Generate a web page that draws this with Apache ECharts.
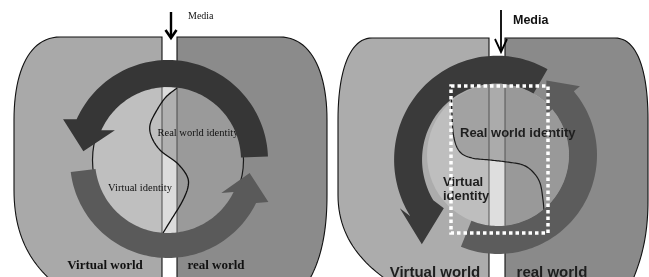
<!DOCTYPE html>
<html><head><meta charset="utf-8">
<script src="https://cdn.jsdelivr.net/npm/echarts@6/dist/echarts.min.js"></script>
<style>html,body{margin:0;padding:0;background:#fff}#c{width:649px;height:277px}</style>
</head><body><div id="c"></div>
<script>
// ---- text content ----
const mediaLabels = ['Media', 'Media'];
const realIdentityLabels = ['Real world identity', 'Real world identity'];
const virtualIdentityLabels = ['Virtual identity', 'Virtual', 'identity'];
const worldLabels = ['Virtual world', 'real world'];

// ---- layout (diagram geometry) ----
const L = {
  c: [168, 160], r: 75.5, strip: [162, 177],
  s: [[177,88],[166,97],[157,110],[150,125],[152,138],[161,151],[177,163],[187,176],[188,187],[182,202],[171,220],[163,233]],
  arrows: [
    {a0: 187, a1: 334, rIn: 73, rOut: 98, hb: 24, len: 25, tilt: -15, drift: 0, color: '#5a5a5a'},
    {a0: 2, a1: 156, rIn: 73, rOut: 100, hb: 26.5, len: 27, tilt: -12, drift: 0, color: '#363636'}
  ]
};
const R = {
  c: [498, 155], r: 71, strip: [489, 505],
  s: [[451,86],[452,115],[454,138],[460,152],[472,158],[490,160],[507,162],[523,165],[533,172],[540,183],[543,200],[545,220],[548,233]],
  arrows: [
    {a0: 248, a1: 400, rIn: 71, rOut: 99, hb: 22, len: 26, tilt: 0, drift: 0, color: '#5c5c5c'},
    {a0: 60, a1: 215, rIn: 71, rOut: 99, hb: 22, len: 36, tilt: 35, drift: 8, color: '#3a3a3a'}
  ]
};
// outer half-shapes: [start, [ctrl1, ctrl2, end] or [point]...]
const shapes = [
  {fill: '#a9a9a9', segs: [[162,37],[60,37],[[30,37],[14,70],[14,120]],[14,190],[[14,235],[30,262],[53,282]],[162,282]]},
  {fill: '#8b8b8b', segs: [[177,37],[280,37],[[310,37],[327,70],[327,120]],[327,195],[[327,235],[320,262],[308,282]],[177,282]]},
  {fill: '#acacac', segs: [[489,38],[372,38],[[350,38],[338,70],[338,120]],[338,195],[[338,235],[360,262],[390,282]],[489,282]]},
  {fill: '#8a8a8a', segs: [[505,38],[615,38],[[637,38],[648,70],[648,120]],[648,200],[[648,240],[640,262],[632,282]],[505,282]]}
];

const rad = d => d * Math.PI / 180;
function P(cx, cy, r, a) { return [cx + r * Math.cos(rad(a)), cy - r * Math.sin(rad(a))]; }
function rot(v, deg) { const c = Math.cos(rad(deg)), s = Math.sin(rad(deg)); return [v[0]*c - v[1]*s, v[0]*s + v[1]*c]; }

function segsToPoints(segs) {
  const out = [segs[0].slice()];
  for (let i = 1; i < segs.length; i++) {
    const sg = segs[i];
    if (Array.isArray(sg[0])) {
      const p0 = out[out.length-1], [p1, p2, p3] = sg;
      for (let k = 1; k <= 24; k++) {
        const t = k / 24, u = 1 - t;
        out.push([u*u*u*p0[0] + 3*u*u*t*p1[0] + 3*u*t*t*p2[0] + t*t*t*p3[0],
                  u*u*u*p0[1] + 3*u*u*t*p1[1] + 3*u*t*t*p2[1] + t*t*t*p3[1]]);
      }
    } else out.push(sg.slice());
  }
  return out;
}

function arcArrow(cx, cy, o) {
  const pts = [], n = 90;
  const dr = t => o.drift * t * t;
  for (let i = 0; i <= n; i++) { const t = i / n; pts.push(P(cx, cy, o.rOut + dr(t), o.a0 + (o.a1 - o.a0) * t)); }
  const rm = (o.rIn + o.rOut) / 2 + o.drift;
  const M = P(cx, cy, rm, o.a1);
  const ta = rad(o.a1);
  const d = rot([-Math.sin(ta), -Math.cos(ta)], o.tilt);
  const nr = rot([Math.cos(ta), -Math.sin(ta)], o.tilt);
  pts.push([M[0] + nr[0]*o.hb, M[1] + nr[1]*o.hb]);
  pts.push([M[0] + d[0]*o.len, M[1] + d[1]*o.len]);
  pts.push([M[0] - nr[0]*o.hb, M[1] - nr[1]*o.hb]);
  for (let i = n; i >= 0; i--) { const t = i / n; pts.push(P(cx, cy, o.rIn + dr(t), o.a0 + (o.a1 - o.a0) * t)); }
  return pts;
}

function catmull(pts, seg) {
  const out = [];
  for (let i = 0; i < pts.length - 1; i++) {
    const p0 = pts[Math.max(i-1,0)], p1 = pts[i], p2 = pts[i+1], p3 = pts[Math.min(i+2, pts.length-1)];
    for (let k = 0; k < seg; k++) {
      const t = k / seg, t2 = t*t, t3 = t2*t;
      const f = (a,b,c,e) => 0.5*((2*b) + (-a+c)*t + (2*a-5*b+4*c-e)*t2 + (-a+3*b-3*c+e)*t3);
      out.push([f(p0[0],p1[0],p2[0],p3[0]), f(p0[1],p1[1],p2[1],p3[1])]);
    }
  }
  out.push(pts[pts.length-1]);
  return out;
}
function interp(pts, v, axis) {
  const o = 1 - axis;
  if (v < pts[0][axis]) return -Infinity;
  if (v > pts[pts.length-1][axis]) return Infinity;
  for (let i = 0; i < pts.length - 1; i++) {
    const a = pts[i][axis], b = pts[i+1][axis];
    if (v >= Math.min(a,b) && v <= Math.max(a,b)) {
      if (b === a) return pts[i][o];
      return pts[i][o] + (pts[i+1][o] - pts[i][o]) * (v - a) / (b - a);
    }
  }
  return Infinity;
}
const clamp = (v, a, b) => Math.max(a, Math.min(b, v));
function halfH(cx, r, x) { return Math.sqrt(Math.max(0, r*r - (x-cx)*(x-cx))); }
function regionX(c, r, x0, x1, bottomFn) {
  const top = [], bot = [], n = 60;
  for (let i = 0; i <= n; i++) {
    const x = x0 + (x1 - x0) * i / n, h = halfH(c[0], r, x);
    top.push([x, c[1] - h]);
    bot.push([x, clamp(bottomFn(x), c[1] - h, c[1] + h)]);
  }
  return top.concat(bot.reverse());
}

const g = [];
const poly = (points, fill) => g.push({type: 'polygon', shape: {points}, style: {fill}});
const outline = (points, fill) => g.push({type: 'polygon', shape: {points}, style: {fill, stroke: '#111', lineWidth: 1.1}});
const line = (x1, y1, x2, y2, stroke, w) => g.push({type: 'line', shape: {x1, y1, x2, y2}, style: {stroke, lineWidth: w}});
const text = (t, x, y, font, align, fill, va) => g.push({type: 'text', x, y, style: {text: t, font, fill: fill || '#111', textAlign: align || 'center', textVerticalAlign: va || 'middle', align: align || 'center', verticalAlign: va || 'middle'}});

// ===== LEFT PANEL =====
outline(segsToPoints(shapes[0].segs), shapes[0].fill);
outline(segsToPoints(shapes[1].segs), shapes[1].fill);
{
  const c = L.c, r = L.r, s = catmull(L.s, 12);
  g.push({type: 'circle', shape: {cx: c[0], cy: c[1], r}, style: {fill: '#bfbfbf'}});
  poly(regionX(c, r, L.strip[1], c[0] + r - 0.01, () => Infinity), '#9a9a9a');
  poly(regionX(c, r, L.strip[0], L.strip[1], () => Infinity), '#dcdcdc');
  const dk = [];
  for (let y = 86; y <= 195; y += 1) dk.push([clamp(interp(s, y, 1), L.strip[0], L.strip[1]), y]);
  dk.push([L.strip[1], 195], [L.strip[1], 86]);
  poly(dk, '#b0b0b0');
  for (const x of L.strip) { const h = halfH(c[0], r, x); line(x, c[1]-h, x, c[1]+h, '#4a4a4a', 1); }
  g.push({type: 'circle', shape: {cx: c[0], cy: c[1], r}, style: {fill: 'none', stroke: '#1a1a1a', lineWidth: 1.2}});
  g.push({type: 'polyline', shape: {points: s}, style: {stroke: '#111', lineWidth: 1.3, fill: 'none'}});
  text(realIdentityLabels[0], 198, 133, 'normal 10.5px "Liberation Serif"');
  text(virtualIdentityLabels[0], 140, 188, 'normal 10.5px "Liberation Serif"');
  for (const a of L.arrows) poly(arcArrow(c[0], c[1], a), a.color);
}
line(171, 12, 171, 37, '#000', 2.4);
g.push({type: 'polyline', shape: {points: [[165.5,30],[171,38],[176.5,30]]}, style: {stroke: '#000', lineWidth: 2.6, fill: 'none'}});
text(mediaLabels[0], 188, 16, 'normal 10px "Liberation Serif"', 'left');
text(worldLabels[0], 105, 272, 'bold 13px "Liberation Serif"', 'center', '#111', 'bottom');
text(worldLabels[1], 216, 272, 'bold 13px "Liberation Serif"', 'center', '#111', 'bottom');

// ===== RIGHT PANEL =====
outline(segsToPoints(shapes[2].segs), shapes[2].fill);
outline(segsToPoints(shapes[3].segs), shapes[3].fill);
{
  const c = R.c, r = R.r, s = catmull(R.s, 12);
  g.push({type: 'circle', shape: {cx: c[0], cy: c[1], r}, style: {fill: '#bebebe'}});
  const gx = x => interp(s, x, 0);
  poly(regionX(c, r, c[0] - r + 0.01, R.strip[0], gx), '#a2a2a2');
  poly(regionX(c, r, R.strip[1], c[0] + r - 0.01, () => Infinity), '#999999');
  poly(regionX(c, r, R.strip[0], R.strip[1], () => Infinity), '#dedede');
  poly(regionX(c, r, R.strip[0], R.strip[1], gx), '#ababab');
  for (const x of R.strip) { const h = halfH(c[0], r, x); line(x, c[1]-h, x, c[1]+h, '#555', 1); }
  g.push({type: 'polyline', shape: {points: s}, style: {stroke: '#1a1a1a', lineWidth: 1.2, fill: 'none'}});
  for (const a of R.arrows) poly(arcArrow(c[0], c[1], a), a.color);
  text(realIdentityLabels[1], 460, 133, 'bold 13px "Liberation Sans"', 'left', '#1e1e1e');
  text(virtualIdentityLabels[1], 443, 182, 'bold 13px "Liberation Sans"', 'left', '#1e1e1e');
  text(virtualIdentityLabels[2], 443, 196, 'bold 13px "Liberation Sans"', 'left', '#1e1e1e');
  g.push({type: 'rect', shape: {x: 451, y: 86, width: 97, height: 147}, style: {fill: 'none', stroke: '#ffffff', lineWidth: 3.5, lineDash: [3.5, 3]}});
}
line(501, 10, 501, 52, '#000', 1.8);
g.push({type: 'polyline', shape: {points: [[495,39],[501,52],[507,39]]}, style: {stroke: '#000', lineWidth: 1.8, fill: 'none'}});
text(mediaLabels[1], 513, 21, 'bold 12.5px "Liberation Sans"', 'left');
text(worldLabels[0], 435, 280, 'bold 15px "Liberation Sans"', 'center', '#1e1e1e', 'bottom');
text(worldLabels[1], 552, 280, 'bold 15px "Liberation Sans"', 'center', '#1e1e1e', 'bottom');

const chart = echarts.init(document.getElementById('c'), null, {renderer: 'canvas'});
chart.setOption({animation: false, backgroundColor: '#fff', graphic: {elements: g}});
</script></body></html>
